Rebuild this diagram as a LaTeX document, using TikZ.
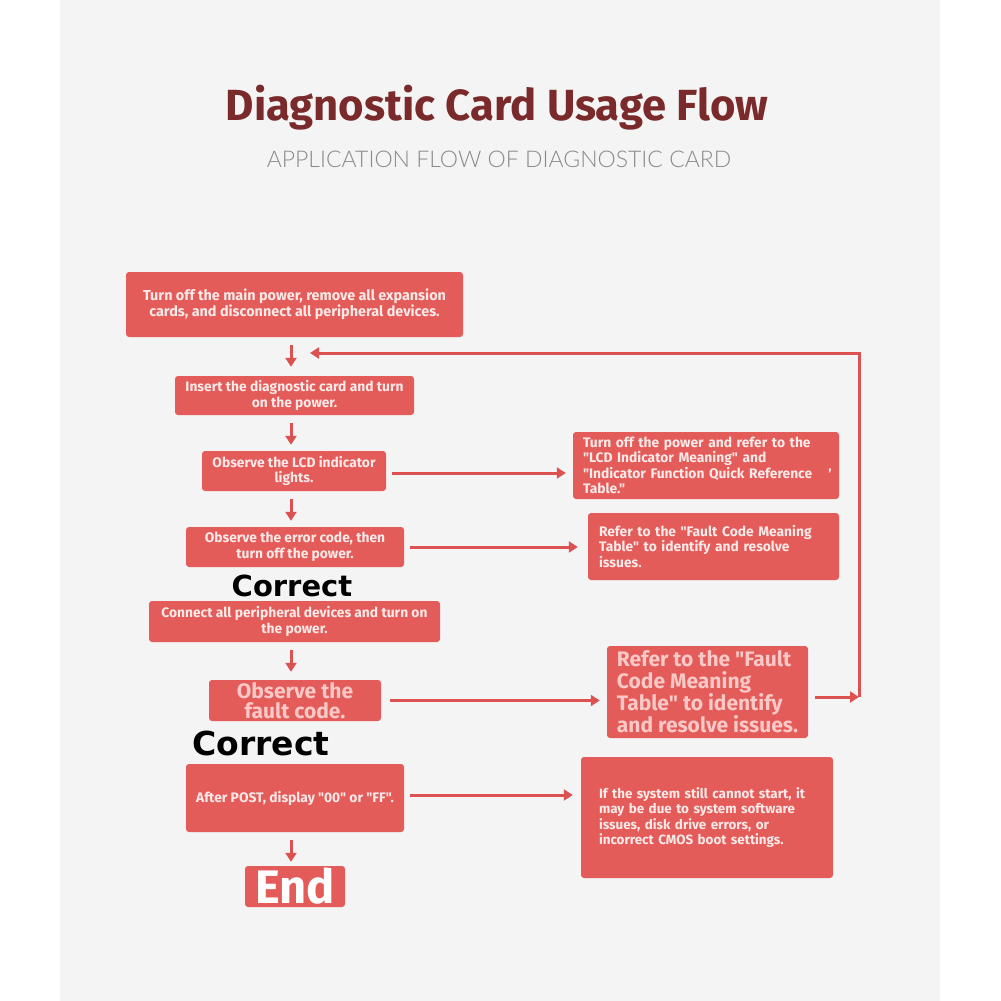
\documentclass[tikz,border=0pt]{standalone}
\usepackage{fontspec}
\setmainfont{Fira Sans}[Ligatures=TeXOff]
\newfontfamily\titlefont{Fira Sans}
\newfontfamily\subfont{Lato Light}
\newfontfamily\corrfont{DejaVu Sans}
\usetikzlibrary{arrows.meta}
\definecolor{boxred}{RGB}{228,92,90}
\definecolor{arrred}{RGB}{220,82,80}
\definecolor{titlered}{RGB}{122,42,42}
\definecolor{panel}{RGB}{244,244,244}
\definecolor{boxtxt}{RGB}{253,234,232}
\definecolor{pinktxt}{RGB}{250,200,198}
\definecolor{subgray}{RGB}{138,138,138}
\begin{document}
\begin{tikzpicture}[x=1pt,y=-1pt,
  card/.style={fill=boxred, rounded corners=3pt, inner sep=0pt, text=boxtxt,
    font=\fontsize{13.8}{15.5}\selectfont\bfseries},
  lcard/.style={card, align=left},
  ccard/.style={card, align=center},
  arr/.style={draw=arrred, line width=3pt, -{Triangle[length=9pt,width=11pt]}},
  corr/.style={font=\corrfont\fontsize{29}{32}\selectfont\bfseries, text=black, inner sep=0pt}
]
\useasboundingbox (0,0) rectangle (1001,1001);
\fill[white] (0,0) rectangle (1001,1001);
\fill[panel] (60,0) rectangle (940,1001);

\node[font=\titlefont\fontsize{43.6}{46}\selectfont\bfseries, text=titlered] (title) at (497,108) {Diagnostic Card Usage Flow};
\node[font=\subfont\fontsize{23}{25}\selectfont, text=subgray] (sub) at (499,159) {APPLICATION FLOW OF DIAGNOSTIC CARD};

% left column
\node[ccard, minimum width=337pt, minimum height=65pt, font=\fontsize{14.4}{15.5}\selectfont\bfseries] (b1) at (294.5,304.5) {Turn off the main power, remove all expansion\\cards, and disconnect all peripheral devices.};
\node[ccard, minimum width=239pt, minimum height=39pt] (b2) at (294.5,395.5) {Insert the diagnostic card and turn\\on the power.};
\node[ccard, minimum width=184pt, minimum height=40pt] (b3) at (294,471) {Observe the LCD indicator\\lights.};
\node[ccard, minimum width=218pt, minimum height=40pt] (b4) at (295,547) {Observe the error code, then\\turn off the power.};
\node[corr] (c1) at (292,586) {Correct};
\node[ccard, minimum width=291pt, minimum height=41pt] (b5) at (294.5,621.5) {Connect all peripheral devices and turn on\\the power.};
\node[ccard, minimum width=172pt, minimum height=41pt, text=pinktxt, font=\fontsize{21}{20}\selectfont\bfseries] (b6) at (295,700.5) {Observe the\\fault code.};
\node[corr, font=\corrfont\fontsize{33}{36}\selectfont\bfseries] (c2) at (261,743) {Correct};
\node[ccard, minimum width=218pt, minimum height=68pt] (b8) at (295,798) {After POST, display "00" or "FF".};
\node[ccard, minimum width=100pt, minimum height=41pt, text=white, font=\fontsize{47}{47}\selectfont\bfseries] (end) at (295,886.5) {End};

% right column
\node[lcard, minimum width=266pt, minimum height=67pt, text width=246pt] (r1) at (706,465.5) {Turn off the power and refer to the\\"LCD Indicator Meaning" and\\"Indicator Function Quick Reference\\Table."};
\node[text=boxtxt, font=\fontsize{14}{14}\selectfont\bfseries, inner sep=0pt] (r1c) at (830,474) {’};
\node[lcard, minimum width=251pt, minimum height=67pt, text width=229pt] (r2) at (713.5,546.5) {Refer to the "Fault Code Meaning\\Table" to identify and resolve\\issues.};
\node[lcard, minimum width=201pt, minimum height=92pt, text=pinktxt, font=\fontsize{21}{22}\selectfont\bfseries] (r3) at (707.5,692) {Refer to the "Fault\\Code Meaning\\Table" to identify\\and resolve issues.};
\node[lcard, minimum width=252pt, minimum height=121pt, text width=216pt, font=\fontsize{13.4}{15.5}\selectfont\bfseries] (r4) at (707,817.5) {If the system still cannot start, it\\may be due to system software\\issues, disk drive errors, or\\incorrect CMOS boot settings.};

% vertical arrows
\coordinate (col) at (291,0);
\draw[arr, shorten <=8pt, shorten >=9pt] (b1.south -| col) -- (b2.north -| col);
\draw[arr, shorten <=8pt, shorten >=6pt] (b2.south -| col) -- (b3.north -| col);
\draw[arr, shorten <=8pt, shorten >=6pt] (b3.south -| col) -- (b4.north -| col);
\draw[arr, shorten <=8pt, shorten >=8pt] (b5.south -| col) -- (b6.north -| col);
\draw[arr, shorten <=8pt, shorten >=4pt] (b8.south -| col) -- (end.north -| col);

% horizontal arrows
\coordinate (h3) at ([yshift=-2pt]b3.east);
\draw[arr, shorten <=6pt, shorten >=7pt] (h3) -- (h3 -| r1.west);
\draw[arr, shorten <=6pt, shorten >=10pt] (b4.east) -- (b4.east -| r2.west);
\draw[arr, shorten <=9pt, shorten >=7pt] (b6.east) -- (b6.east -| r3.west);
\coordinate (h8) at ([yshift=3pt]b8.east);
\draw[arr, shorten <=6pt, shorten >=8pt] (h8) -- (h8 -| r4.west);

% loop back
\coordinate (lr) at (859,697);
\coordinate (lt) at (310,353);
\draw[arr, shorten <=7pt] (r3.east |- lr) -- (lr);
\draw[arr] (lr) |- (lt);
\end{tikzpicture}
\end{document}
